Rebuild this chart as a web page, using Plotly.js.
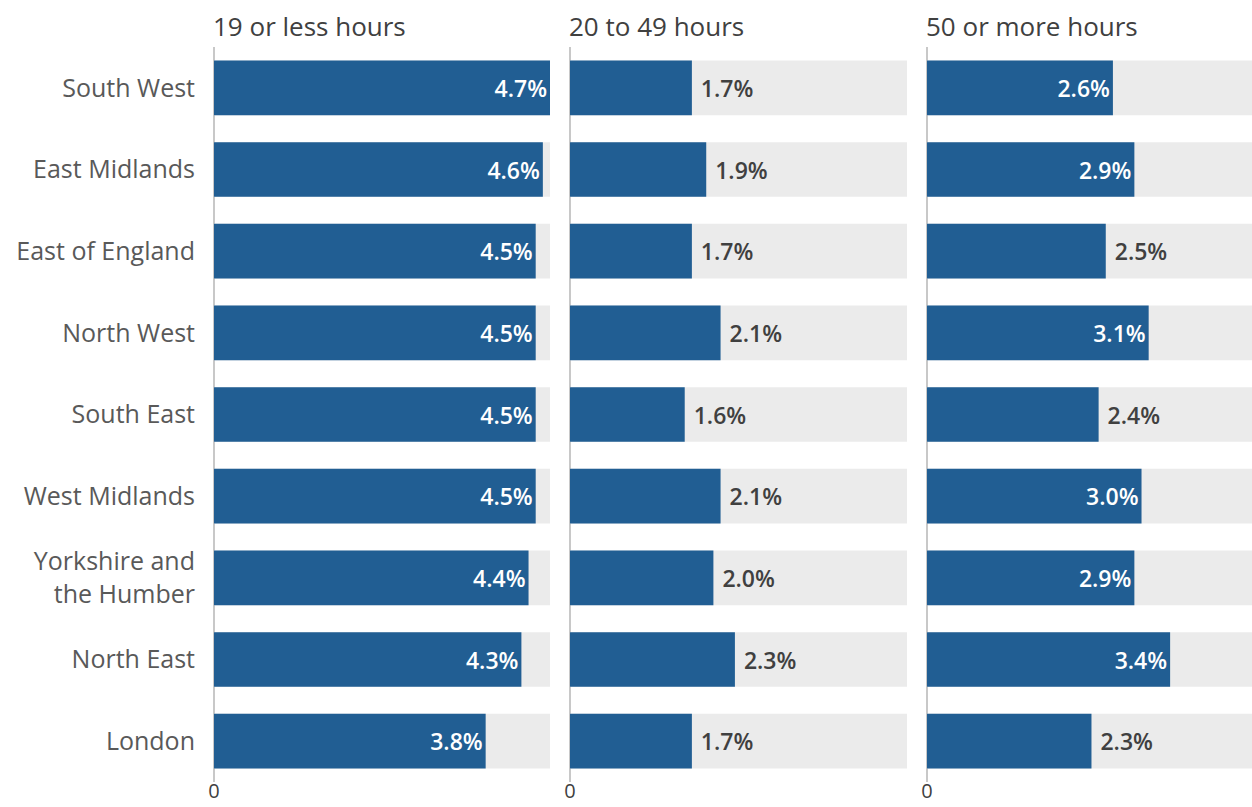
<!DOCTYPE html>
<html>
<head>
<meta charset="utf-8">
<script src="https://cdn.plot.ly/plotly-3.0.1.min.js"></script>
<style>
html,body{margin:0;padding:0;background:#fff;}
#chart{width:1252px;height:807px;}
</style>
</head>
<body>
<div id="chart"></div>
<script>
const regions = ["South West","East Midlands","East of England","North West","South East","West Midlands","Yorkshire and<br>the Humber","North East","London"];
const panelTitles = ["19 or less hours","20 to 49 hours","50 or more hours"];
const hours19Less = [4.7,4.6,4.5,4.5,4.5,4.5,4.4,4.3,3.8];
const hours20to49 = [1.7,1.9,1.7,2.1,1.6,2.1,2.0,2.3,1.7];
const hours50More = [2.6,2.9,2.5,3.1,2.4,3.0,2.9,3.4,2.3];
const backgroundMax = 4.7;
const tickVals = [0];
const tickText = ["0"];

const BLUE = "#215e93";
const GREY_BG = "#ebebeb";
const FONT = "Open Sans, Noto Sans, sans-serif";

const series = [hours19Less, hours20to49, hours50More];
const insideThreshold = [0, 99, 2.55]; // value above which label goes inside
const axes = ["x","x2","x3"];
const traces = [];
series.forEach((vals, i) => {
  traces.push({
    type: "bar", orientation: "h",
    x: regions.map(() => backgroundMax), y: regions,
    xaxis: axes[i], yaxis: "y",
    marker: {color: GREY_BG}, width: 0.67,
    hoverinfo: "skip", showlegend: false
  });
  const pos = vals.map(v => v > insideThreshold[i] ? "inside" : "outside");
  traces.push({
    type: "bar", orientation: "h",
    x: vals, y: regions,
    xaxis: axes[i], yaxis: "y",
    marker: {color: BLUE}, width: 0.67,
    text: vals.map((v, k) => (pos[k] === "outside" ? " " : "") + v.toFixed(1) + "%"),
    textposition: pos,
    insidetextanchor: "end",
    constraintext: "none",
    cliponaxis: false,
    insidetextfont: {color: "#ffffff", size: 23, family: FONT, weight: 600},
    outsidetextfont: {color: "#404040", size: 23, family: FONT, weight: 600},
    showlegend: false
  });
});

const W = 1252;
const xCommon = {
  showgrid: false, zeroline: true, zerolinecolor: "#c8c8c8", zerolinewidth: 2,
  tickmode: "array", tickvals: tickVals, ticktext: tickText, ticks: "",
  tickfont: {size: 20, color: "#404040", family: FONT},
  ticklabelstandoff: -5,
  showline: false, fixedrange: true, anchor: "y"
};
const layout = {
  width: 1252, height: 807,
  margin: {l: 0, r: 0, t: 47, b: 25},
  paper_bgcolor: "#ffffff", plot_bgcolor: "rgba(0,0,0,0)",
  barmode: "overlay",
  font: {family: FONT},
  xaxis: Object.assign({}, xCommon, {domain: [214/W, 550/W], range: [0, 4.7]}),
  xaxis2: Object.assign({}, xCommon, {domain: [570/W, 907/W], range: [0, 4.7]}),
  xaxis3: Object.assign({}, xCommon, {domain: [927/W, 1], range: [0, 4.545]}),
  yaxis: {
    autorange: "reversed", showgrid: false, zeroline: false, ticks: "",
    tickfont: {size: 25, color: "#595959", family: FONT},
    ticklabelstandoff: 18, automargin: false, fixedrange: true
  },
  annotations: panelTitles.map((t, i) => ({
    text: t, xref: axes[i] + " domain", x: 0, xanchor: "left", xshift: -3,
    yref: "paper", y: 1.0286, yanchor: "middle", showarrow: false,
    font: {size: 26, color: "#404040", family: FONT}
  }))
};
Plotly.newPlot("chart", traces, layout, {displayModeBar: false, staticPlot: true});
</script>
</body>
</html>
